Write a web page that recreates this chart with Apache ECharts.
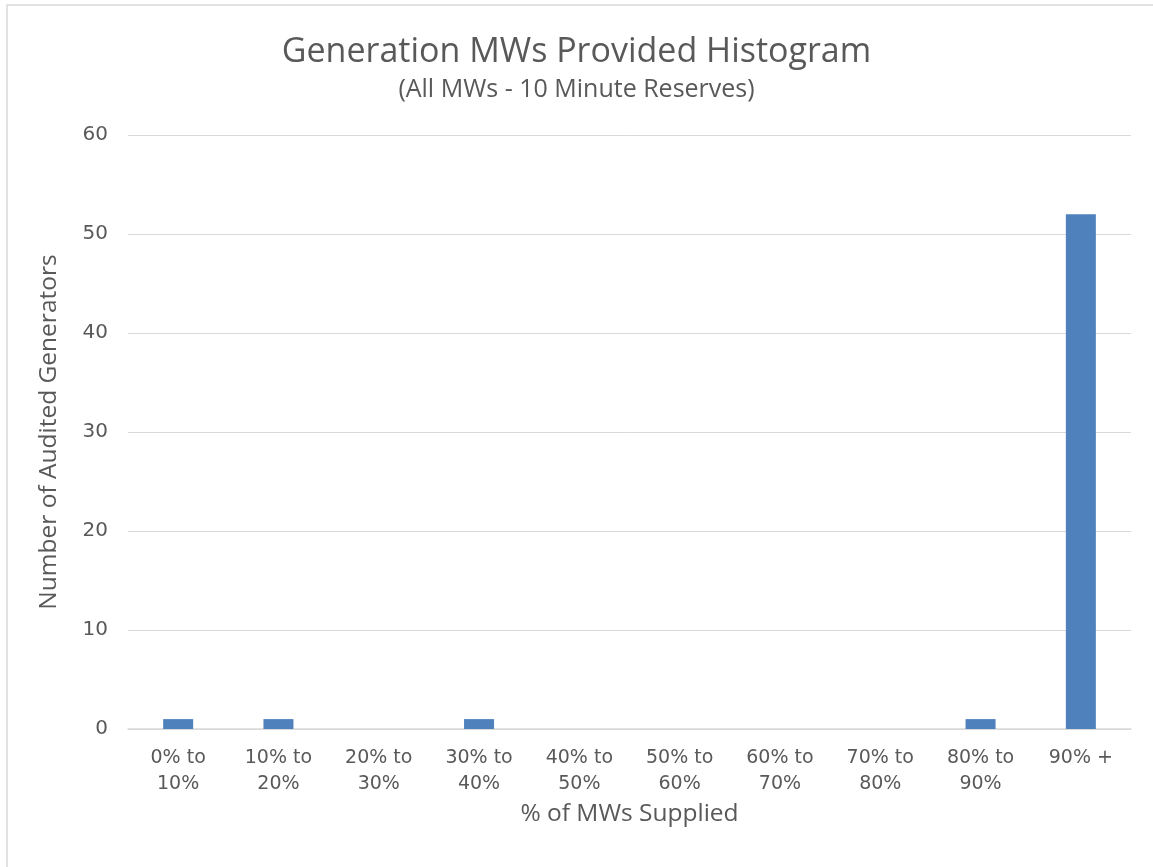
<!DOCTYPE html>
<html><head><meta charset="utf-8">
<script src="https://cdn.jsdelivr.net/npm/echarts@6/dist/echarts.min.js"></script>
<style>html,body{margin:0;padding:0;background:#fff}#c{width:1153px;height:867px}</style>
</head><body><div id="c"></div>
<script>
const categories = ['0% to\n10%','10% to\n20%','20% to\n30%','30% to\n40%','40% to\n50%','50% to\n60%','60% to\n70%','70% to\n80%','80% to\n90%','90% +'];
const counts = [1,1,0,1,0,0,0,0,1,52];
const yTicks = {min:0, max:60, interval:10};
const chart = echarts.init(document.getElementById('c'));
chart.setOption({
  animation:false,
  graphic:[
    {type:'rect', shape:{x:7,y:5,width:1160,height:880}, style:{fill:'none',stroke:'#d9d9d9',lineWidth:1.5}, silent:true}
  ],
  title:{
    text:'Generation MWs Provided Histogram',
    subtext:'(All MWs - 10 Minute Reserves)',
    left:'center', top:30, itemGap:8,
    textStyle:{fontFamily:'Open Sans', fontSize:34, fontWeight:'normal', color:'#595959'},
    subtextStyle:{fontFamily:'Open Sans', fontSize:25, color:'#595959'}
  },
  grid:{left:128,right:22,top:135,bottom:138},
  xAxis:{
    type:'category', data:categories,
    name:'% of MWs Supplied', nameLocation:'middle', nameGap:56,
    nameTextStyle:{fontFamily:'Open Sans', fontSize:24.5, color:'#595959'},
    axisLine:{lineStyle:{color:'#d9d9d9',width:1.5}},
    axisTick:{show:false},
    axisLabel:{fontFamily:'DejaVu Sans', fontSize:19, color:'#595959', lineHeight:26, margin:16, interval:0}
  },
  yAxis:{
    type:'value', min:yTicks.min, max:yTicks.max, interval:yTicks.interval,
    name:'Number of Audited Generators', nameLocation:'middle', nameGap:66,
    nameTextStyle:{fontFamily:'Open Sans', fontSize:24.5, color:'#595959'},
    axisLine:{show:false}, axisTick:{show:false},
    splitLine:{lineStyle:{color:'#d9d9d9',width:1}},
    axisLabel:{fontFamily:'DejaVu Sans', fontSize:20, color:'#595959', margin:20}
  },
  series:[{
    type:'bar', data:counts, barWidth:30,
    itemStyle:{color:'#4f81bd'}
  }]
});
</script></body></html>
